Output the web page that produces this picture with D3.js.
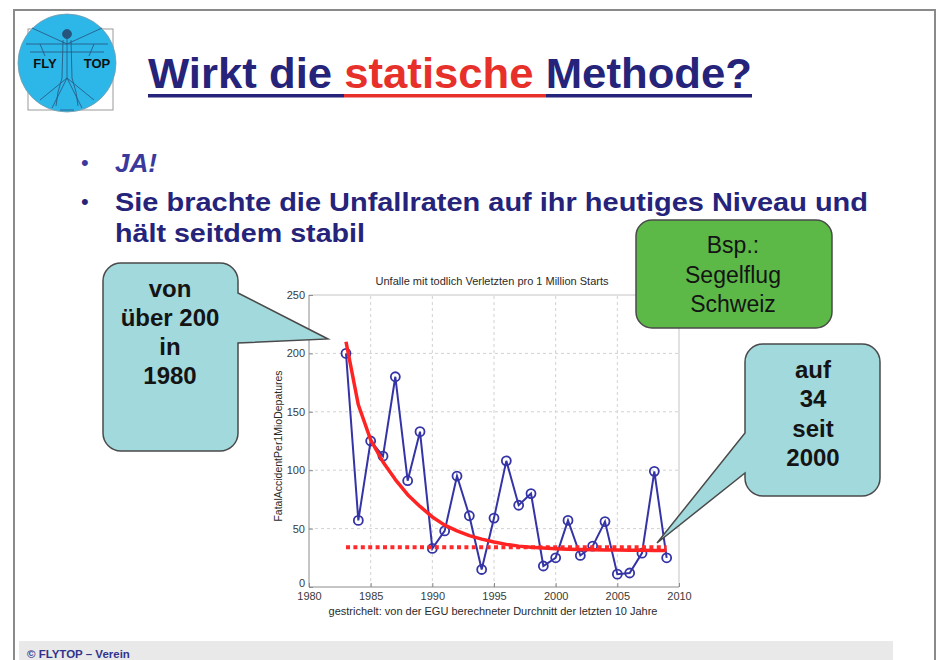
<!DOCTYPE html>
<html>
<head>
<meta charset="utf-8">
<script src="https://cdn.jsdelivr.net/npm/d3@7"></script>
<style>
  body { margin: 0; background: #fff; }
  svg { display: block; font-family: "Liberation Sans", Arial, sans-serif; }
</style>
</head>
<body>
<svg width="937" height="660"></svg>
<script>
// yearly fatal accidents per 1 million starts (glider, Switzerland)
var years = [1983, 1984, 1985, 1986, 1987, 1988, 1989, 1990, 1991, 1992, 1993, 1994, 1995, 1996,
             1997, 1998, 1999, 2000, 2001, 2002, 2003, 2004, 2005, 2006, 2007, 2008, 2009];
var rates = [200, 57, 125, 112, 180, 91, 133, 33, 48, 95, 61, 15, 59, 108,
             70, 80, 18, 25, 57, 27, 35, 56, 11, 12, 29, 99, 25];
// red trend curve, read per year
var trend = [210, 156, 126, 107, 92, 79, 69, 60, 53, 48, 44, 41, 38.5, 36.5,
             35, 34, 33.3, 32.8, 32.4, 32.1, 31.9, 31.7, 31.6, 31.5, 31.4, 31.3, 31.3];
// dotted line: 10-year average computed by EGU
var avgYears = [1983, 2009];
var avgValues = [34, 34];

var xTicks = [1980, 1985, 1990, 1995, 2000, 2005, 2010];
var yTicks = [0, 50, 100, 150, 200, 250];

var bullets = ["JA!", "Sie brachte die Unfallraten auf ihr heutiges Niveau und", "hält seitdem stabil"];
var leftNote = ["von", "über 200", "in", "1980"];
var rightNote = ["auf", "34", "seit", "2000"];
var greenNote = ["Bsp.:", "Segelflug", "Schweiz"];

var svg = d3.select("svg");
var navy = "#25237a";

// slide frame
svg.append("rect").attr("width", 937).attr("height", 660).attr("fill", "#fff");
svg.append("path").attr("d", "M14,660V10H935V660").attr("fill", "none")
  .attr("stroke", "#8a8a8a").attr("stroke-width", 2);

// footer band
svg.append("rect").attr("x", 19).attr("y", 641).attr("width", 874).attr("height", 19).attr("fill", "#e9e9e9");
svg.append("text").attr("x", 27).attr("y", 658).attr("font-size", 11.5).attr("font-weight", "bold")
  .attr("fill", "#34338c").text("© FLYTOP – Verein");

// logo
var logo = svg.append("g");
logo.append("rect").attr("x", 28).attr("y", 29).attr("width", 85).attr("height", 81)
  .attr("fill", "none").attr("stroke", "#9a9a9a").attr("stroke-width", 1);
logo.append("circle").attr("cx", 67).attr("cy", 63).attr("r", 49)
  .attr("fill", "#2db6e8").attr("stroke", "#7a9aaa").attr("stroke-width", 0.8);
var man = logo.append("g").attr("stroke", "#24345a").attr("stroke-width", 0.8).attr("fill", "none").attr("opacity", 0.75);
man.append("circle").attr("cx", 67).attr("cy", 34).attr("r", 4.5).attr("fill", "#24345a");
man.append("path").attr("d", "M67,38L67,78M63,40L62,78M71,40L72,78M26,44L108,44M30,52L104,52" +
  "M32,28L67,44L102,28M67,78L52,108M67,78L82,108M67,78L40,100M67,78L94,100M60,110h14" +
  "M62,78L58,92L56,106M72,78L76,92L78,106M40,44L45,56M94,44L89,56");
logo.append("text").attr("x", 45).attr("y", 68).attr("text-anchor", "middle").attr("font-size", 13)
  .attr("font-weight", "bold").attr("fill", "#111").text("FLY");
logo.append("text").attr("x", 97).attr("y", 68).attr("text-anchor", "middle").attr("font-size", 13)
  .attr("font-weight", "bold").attr("fill", "#111").text("TOP");

// title
var title = svg.append("text").attr("x", 148).attr("y", 88).attr("font-size", 43).attr("font-weight", "bold")
  .attr("textLength", 604).attr("lengthAdjust", "spacingAndGlyphs");
title.append("tspan").attr("fill", navy).text("Wirkt die ");
title.append("tspan").attr("fill", "#e8302a").text("statische");
title.append("tspan").attr("fill", navy).text(" Methode?");
svg.append("rect").attr("x", 148).attr("y", 94).attr("width", 196).attr("height", 3.5).attr("fill", navy);
svg.append("rect").attr("x", 344).attr("y", 94).attr("width", 202).attr("height", 3.5).attr("fill", "#e8302a");
svg.append("rect").attr("x", 546).attr("y", 94).attr("width", 206).attr("height", 3.5).attr("fill", navy);

// bullets
svg.append("text").attr("x", 81).attr("y", 170).attr("font-size", 22).attr("fill", "#3b3a9c").text("•");
svg.append("text").attr("x", 81).attr("y", 209).attr("font-size", 22).attr("fill", navy).text("•");
svg.append("text").attr("x", 115).attr("y", 172).attr("font-size", 26).attr("font-weight", "bold")
  .attr("font-style", "italic").attr("fill", "#3b3a9c").text(bullets[0]);
svg.append("text").attr("x", 115).attr("y", 211).attr("font-size", 26).attr("font-weight", "bold")
  .attr("fill", navy).attr("textLength", 753).attr("lengthAdjust", "spacingAndGlyphs").text(bullets[1]);
svg.append("text").attr("x", 115).attr("y", 242).attr("font-size", 26).attr("font-weight", "bold")
  .attr("fill", navy).attr("textLength", 250).attr("lengthAdjust", "spacingAndGlyphs").text(bullets[2]);

// chart
var x = d3.scaleLinear().domain([1980, 2010]).range([309, 679]);
var y = d3.scaleLinear().domain([0, 250]).range([587, 295]);

var chart = svg.append("g");
var grid = chart.append("g").attr("stroke", "#d2d2d2").attr("stroke-dasharray", "3,3").attr("stroke-width", 1);
grid.selectAll(".gx").data(xTicks.slice(1, -1)).enter().append("line")
  .attr("x1", d => x(d)).attr("x2", d => x(d)).attr("y1", y(0)).attr("y2", y(250));
grid.selectAll(".gy").data(yTicks.slice(1, -1)).enter().append("line")
  .attr("y1", d => y(d)).attr("y2", d => y(d)).attr("x1", x(1980)).attr("x2", x(2010));
chart.append("path").attr("d", `M${x(1980)},${y(250)}H${x(2010)}V${y(0)}`)
  .attr("fill", "none").attr("stroke", "#c4c4c4");
chart.append("path").attr("d", `M${x(1980)},${y(250)}V${y(0)}H${x(2010)}`)
  .attr("fill", "none").attr("stroke", "#8c8c8c");

var xAxis = chart.append("g").attr("transform", `translate(0,${y(0)})`)
  .call(d3.axisBottom(x).tickValues(xTicks).tickFormat(d3.format("d")).tickSize(-4).tickPadding(5));
var yAxis = chart.append("g").attr("transform", `translate(${x(1980)},0)`)
  .call(d3.axisLeft(y).tickValues(yTicks).tickSize(-4).tickPadding(4));
[xAxis, yAxis].forEach(function(a) {
  a.select(".domain").remove();
  a.selectAll("line").attr("stroke", "#8c8c8c");
  a.selectAll("text").attr("font-size", 11).attr("fill", "#3a3a3a").attr("font-family", "Liberation Sans, Arial");
});
// lift the zero label a little so it clears "1980"
yAxis.selectAll(".tick").filter(d => d === 0).select("text").attr("dy", "-0.05em");

chart.append("text").attr("x", 492).attr("y", 285).attr("text-anchor", "middle").attr("font-size", 11)
  .attr("fill", "#2a2a2a").text("Unfalle mit todlich Verletzten pro 1 Million Starts");
chart.append("text").attr("x", 493).attr("y", 615).attr("text-anchor", "middle").attr("font-size", 11)
  .attr("fill", "#2a2a2a").text("gestrichelt: von der EGU berechneter Durchnitt der letzten 10 Jahre");
chart.append("text").attr("transform", "translate(282,446) rotate(-90)")
  .attr("text-anchor", "middle").attr("font-size", 10.5).attr("fill", "#2a2a2a")
  .text("FatalAccidentPer1MioDepatures");

var line = d3.line().x(d => x(d[0])).y(d => y(d[1]));

chart.append("path").datum(d3.zip(years, rates)).attr("d", line)
  .attr("fill", "none").attr("stroke", "#3434a6").attr("stroke-width", 2);
chart.selectAll(".pt").data(d3.zip(years, rates)).enter().append("circle")
  .attr("cx", d => x(d[0])).attr("cy", d => y(d[1])).attr("r", 4.5)
  .attr("fill", "none").attr("stroke", "#3434a6").attr("stroke-width", 1.8);

chart.append("path").datum(d3.zip(avgYears, avgValues)).attr("d", line)
  .attr("fill", "none").attr("stroke", "#ff2a2a").attr("stroke-width", 4).attr("stroke-dasharray", "4,3.4");
chart.append("path").datum(d3.zip(years, trend)).attr("d", line)
  .attr("fill", "none").attr("stroke", "#ff2323").attr("stroke-width", 3.5).attr("stroke-linejoin", "round");

// callouts: rounded box with a wedge pointing at the chart
function callout(bx, by, w, h, r, side, a, b, tip) {
  var p = d3.path();
  p.moveTo(bx + r, by);
  p.lineTo(bx + w - r, by);
  p.arcTo(bx + w, by, bx + w, by + r, r);
  if (side === "right") { p.lineTo(bx + w, a); p.lineTo(tip[0], tip[1]); p.lineTo(bx + w, b); }
  p.lineTo(bx + w, by + h - r);
  p.arcTo(bx + w, by + h, bx + w - r, by + h, r);
  p.lineTo(bx + r, by + h);
  p.arcTo(bx, by + h, bx, by + h - r, r);
  if (side === "left") { p.lineTo(bx, b); p.lineTo(tip[0], tip[1]); p.lineTo(bx, a); }
  p.lineTo(bx, by + r);
  p.arcTo(bx, by, bx + r, by, r);
  p.closePath();
  return p.toString();
}

svg.append("path").attr("d", callout(103, 263, 135, 188, 18, "right", 293, 343, [328, 339]))
  .attr("fill", "#a2d9dc").attr("stroke", "#4a4a4a").attr("stroke-width", 1.5);
svg.append("path").attr("d", callout(745, 344, 135, 152, 18, "left", 433, 473, [657, 543]))
  .attr("fill", "#a2d9dc").attr("stroke", "#4a4a4a").attr("stroke-width", 1.5);
svg.append("path").attr("d", callout(636, 220, 196, 108, 16, "none"))
  .attr("fill", "#5cb947").attr("stroke", "#4a4a4a").attr("stroke-width", 1.5);

function lines(arr, cx, y0, dy, size, weight) {
  svg.append("g").selectAll("text").data(arr).enter().append("text")
    .attr("x", cx).attr("y", (d, i) => y0 + i * dy).attr("text-anchor", "middle")
    .attr("font-size", size).attr("font-weight", weight).attr("fill", "#141414").text(d => d);
}
lines(leftNote, 170, 297, 29, 24, "bold");
lines(rightNote, 813, 378, 29.3, 24, "bold");
lines(greenNote, 733, 253, 29.5, 23, "normal");
</script>
</body>
</html>
